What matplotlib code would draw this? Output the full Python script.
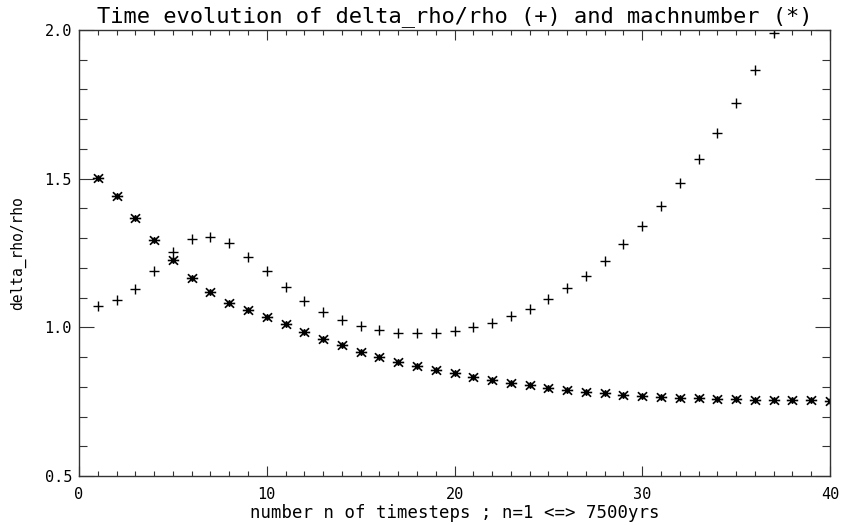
import numpy as np
import matplotlib
matplotlib.use("Agg")
import matplotlib.pyplot as plt
from matplotlib.path import Path
from matplotlib.ticker import MultipleLocator, FormatStrFormatter

# delta_rho/rho (+), timesteps 1..37
n_rho = list(range(1, 38))
delta_rho = [1.072, 1.092, 1.128, 1.190, 1.252, 1.296, 1.303, 1.283, 1.238, 1.190,
             1.137, 1.090, 1.053, 1.025, 1.005, 0.991, 0.982, 0.980, 0.982, 0.989,
             1.000, 1.016, 1.038, 1.063, 1.094, 1.131, 1.174, 1.224, 1.279, 1.341,
             1.408, 1.485, 1.565, 1.655, 1.756, 1.866, 1.989]

# machnumber (*), timesteps 1..40
n_mach = list(range(1, 41))
mach = [1.501, 1.442, 1.367, 1.294, 1.227, 1.165, 1.118, 1.083, 1.058, 1.034,
        1.010, 0.985, 0.961, 0.939, 0.918, 0.901, 0.882, 0.870, 0.857, 0.845,
        0.834, 0.823, 0.814, 0.806, 0.797, 0.789, 0.782, 0.778, 0.772, 0.769,
        0.766, 0.764, 0.762, 0.760, 0.758, 0.757, 0.756, 0.755, 0.754, 0.753]

# wide, even letters like the old IDL vector font
plt.rcParams['font.family'] = ['DejaVu Sans Mono']

# IDL-like asterisk: horizontal bar, two diagonals, short vertical
star = Path([(-1, 0), (1, 0), (-0.8, -0.75), (0.8, 0.75), (-0.8, 0.75), (0.8, -0.75),
             (0, -0.6), (0, 0.6)],
            [Path.MOVETO, Path.LINETO] * 4)

fig = plt.figure(figsize=(8.43, 5.25), dpi=100)
ax = fig.add_axes([79 / 843, 1 - 476 / 525, 751 / 843, 446 / 525])

ax.plot(n_rho, delta_rho, ls='none', marker='+', ms=7.5, mew=1.0, color='black')
ax.plot(n_mach, mach, ls='none', marker=star, ms=8.2, mew=1.2, color='black')

ax.set_xlim(0, 40)
ax.set_ylim(0.5, 2.0)
ax.xaxis.set_major_locator(MultipleLocator(10))
ax.xaxis.set_minor_locator(MultipleLocator(1))
ax.yaxis.set_major_locator(MultipleLocator(0.5))
ax.yaxis.set_minor_locator(MultipleLocator(0.1))
ax.yaxis.set_major_formatter(FormatStrFormatter('%.1f'))

ax.tick_params(which='both', direction='in', top=True, right=True, color='#333333',
               labelsize=11, width=0.8)
ax.tick_params(axis='x', which='major', length=7.5, pad=8)
ax.tick_params(axis='x', which='minor', length=3.5)
ax.tick_params(axis='y', which='major', length=11, pad=5)
ax.tick_params(axis='y', which='minor', length=6)
for s in ax.spines.values():
    s.set_linewidth(1.0)
    s.set_color('#333333')

ax.set_xlabel('number n of timesteps ; n=1 <=> 7500yrs', fontsize=12.5, labelpad=1)
ax.set_ylabel('delta_rho/rho', fontsize=10.5)
ax.yaxis.set_label_coords(-53 / 751, 0.5)
ax.set_title('Time evolution of delta_rho/rho (+) and machnumber (*)', fontsize=15.8, pad=6)

fig.savefig('out.png', dpi=100)
